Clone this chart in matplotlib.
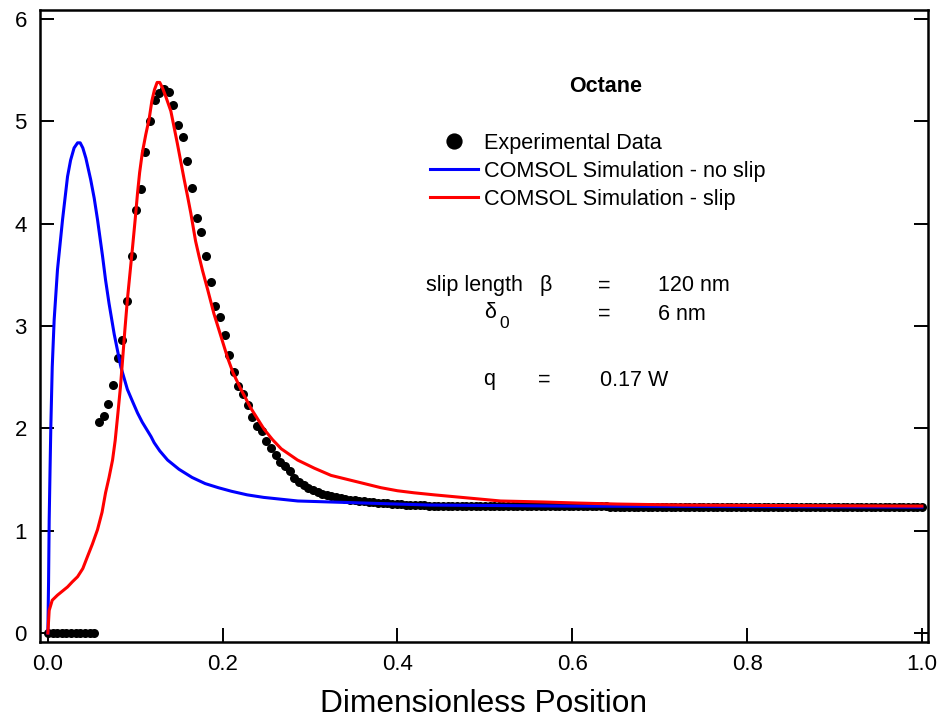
import matplotlib.pyplot as plt
import numpy as np

plt.rcParams['font.family'] = ['Liberation Sans', 'DejaVu Sans']

# experimental data, sampled on an even grid of 188 points across the channel
exp_y = [
    0, 0, 0, 0, 0, 0, 0, 0, 0, 0, 0,
    2.06, 2.12, 2.24, 2.42, 2.69, 2.86, 3.24, 3.68, 4.13, 4.34,
    4.70, 5.00, 5.21, 5.28, 5.32, 5.29, 5.16, 4.96, 4.85, 4.61,
    4.35, 4.06, 3.92, 3.68, 3.43, 3.20, 3.09, 2.91, 2.72, 2.55,
    2.41, 2.34, 2.23, 2.11, 2.02, 1.97, 1.88, 1.81, 1.74, 1.67,
    1.63, 1.58, 1.51, 1.48, 1.45, 1.42, 1.40, 1.38, 1.36, 1.35,
    1.34, 1.33, 1.32, 1.31, 1.30, 1.295, 1.29, 1.285, 1.28, 1.28,
    1.275, 1.27, 1.27, 1.265, 1.26, 1.26, 1.255, 1.255, 1.25, 1.25,
    1.25, 1.245, 1.245, 1.245, 1.24, 1.24, 1.24, 1.24, 1.24, 1.24,
    1.24, 1.24, 1.24, 1.24, 1.24, 1.24, 1.24, 1.24, 1.24, 1.24,
    1.24, 1.24, 1.24, 1.24, 1.24, 1.24, 1.24, 1.24, 1.24, 1.24,
    1.24, 1.24, 1.24, 1.24, 1.24, 1.24, 1.24, 1.24, 1.24, 1.24,
    1.235, 1.235, 1.235, 1.235, 1.235, 1.235, 1.235, 1.235, 1.235, 1.235,
    1.235, 1.235, 1.235, 1.235, 1.235, 1.235, 1.235, 1.235, 1.235, 1.235,
    1.235, 1.235, 1.235, 1.235, 1.235, 1.235, 1.235, 1.235, 1.235, 1.235,
    1.235, 1.235, 1.235, 1.235, 1.235, 1.235, 1.235, 1.235, 1.235, 1.235,
    1.235, 1.235, 1.235, 1.235, 1.235, 1.235, 1.235, 1.235, 1.235, 1.235,
    1.235, 1.235, 1.235, 1.235, 1.235, 1.235, 1.235, 1.235, 1.235, 1.235,
    1.235, 1.235, 1.235, 1.235, 1.235, 1.235, 1.235, 1.235,
]
exp_x = np.linspace(0, 1, len(exp_y))

# COMSOL simulation - no slip
noslip_x = [0, 0.0008, 0.0015, 0.0025, 0.0034, 0.005, 0.0072, 0.011, 0.0168,
            0.0225, 0.026, 0.030, 0.034, 0.037, 0.040, 0.0435, 0.049, 0.053,
            0.0568, 0.0626, 0.066, 0.070, 0.0759, 0.0835, 0.091, 0.097,
            0.1026, 0.108, 0.118, 0.1216, 0.128, 0.137, 0.15, 0.165, 0.18,
            0.195, 0.21, 0.228, 0.247, 0.286, 0.362, 0.438, 0.52, 0.6, 0.8,
            1.0]
noslip_y = [0, 0.5, 1.10, 1.6, 2.02, 2.6, 3.06, 3.55, 4.04,
            4.46, 4.62, 4.74, 4.79, 4.79, 4.74, 4.64, 4.43, 4.25,
            4.04, 3.68, 3.45, 3.22, 2.92, 2.60, 2.38, 2.26,
            2.15, 2.06, 1.92, 1.86, 1.78, 1.69, 1.60, 1.52, 1.46,
            1.42, 1.385, 1.35, 1.325, 1.29, 1.27, 1.25, 1.245, 1.24, 1.235,
            1.23]

# COMSOL simulation - slip
slip_x = [0, 0.0015, 0.005, 0.011, 0.0225, 0.028, 0.034, 0.040, 0.045, 0.051,
          0.0568, 0.062, 0.066, 0.070, 0.074, 0.077, 0.0797, 0.083, 0.0855,
          0.088, 0.091, 0.094, 0.097, 0.100, 0.1026, 0.105, 0.108, 0.112,
          0.116, 0.119, 0.122, 0.125, 0.128, 0.131, 0.135, 0.1407, 0.144,
          0.148, 0.152, 0.156, 0.160, 0.1636, 0.169, 0.173, 0.177, 0.183,
          0.19, 0.198, 0.2056, 0.212, 0.221, 0.232, 0.2475, 0.257, 0.267,
          0.2857, 0.305, 0.324, 0.343, 0.362, 0.381, 0.40, 0.419, 0.442,
          0.48, 0.518, 0.568, 0.606, 0.652, 0.728, 0.85, 1.0]
slip_y = [0, 0.22, 0.32, 0.37, 0.45, 0.50, 0.55, 0.63, 0.74, 0.87,
          1.01, 1.18, 1.37, 1.52, 1.69, 1.88, 2.11, 2.40, 2.67,
          2.95, 3.26, 3.52, 3.78, 4.05, 4.30, 4.50, 4.69, 4.87,
          5.03, 5.20, 5.31, 5.38, 5.38, 5.33, 5.24, 5.10, 4.96,
          4.79, 4.61, 4.43, 4.26, 4.10, 3.83, 3.68, 3.54, 3.35,
          3.12, 2.90, 2.69, 2.54, 2.38, 2.20, 1.99, 1.89, 1.80,
          1.69, 1.61, 1.54, 1.50, 1.46, 1.42, 1.39, 1.37, 1.35,
          1.32, 1.29, 1.28, 1.27, 1.26, 1.25, 1.245, 1.24]

x_ticks = [0.0, 0.2, 0.4, 0.6, 0.8, 1.0]
y_ticks = [0, 1, 2, 3, 4, 5, 6]

W, H = 941, 720
fig = plt.figure(figsize=(W / 100, H / 100), dpi=100)
ax = fig.add_axes([40 / W, 1 - 642 / H, 888 / W, 632 / H])

ax.plot(exp_x, exp_y, 'o', color='black', markersize=6.5, markeredgewidth=0,
        label='Experimental Data', zorder=2)
ax.plot(noslip_x, noslip_y, color='#0000ff', lw=2.2,
        label='COMSOL Simulation - no slip', zorder=3)
ax.plot(slip_x, slip_y, color='#ff0000', lw=2.2,
        label='COMSOL Simulation - slip', zorder=4)

ax.set_xlim(-0.009, 1.007)
ax.set_ylim(-0.088, 6.088)
ax.set_xticks(x_ticks)
ax.set_xticklabels(['%.1f' % t for t in x_ticks])
ax.set_yticks(y_ticks)

for s in ax.spines.values():
    s.set_linewidth(1.8)
ax.tick_params(direction='in', length=10, width=1.4, labelsize=16,
               right=True, top=False)
ax.tick_params(axis='x', pad=9)
ax.tick_params(axis='y', pad=9.5)

ax.set_xlabel('Dimensionless Position', fontsize=22.8, labelpad=9.5)

leg = ax.legend(loc='upper left', bbox_to_anchor=(430 / W, 1 - 133 / H),
                bbox_transform=fig.transFigure, frameon=False, fontsize=15.6,
                borderpad=0, borderaxespad=0, handlelength=2.2,
                handletextpad=0.3, labelspacing=0.32, markerscale=1.8)

def px(x, y):
    return x / W, 1 - y / H

fs = 15.5
fig.text(*px(606, 86), 'Octane', fontsize=fs, fontweight='bold', ha='center', va='center')
fig.text(*px(426, 286), 'slip length', fontsize=fs, ha='left', va='center')
fig.text(*px(546, 286), r'$\mathregular{\beta}$', fontsize=fs, ha='center', va='center')
fig.text(*px(604, 286), '=', fontsize=fs, ha='center', va='center')
fig.text(*px(658, 286), '120 nm', fontsize=fs, ha='left', va='center')
fig.text(*px(491, 312), r'$\mathregular{\delta}$', fontsize=fs, ha='center', va='center')
fig.text(*px(504, 324), '0', fontsize=12.5, ha='center', va='center')
fig.text(*px(604, 314), '=', fontsize=fs, ha='center', va='center')
fig.text(*px(658, 314), '6 nm', fontsize=fs, ha='left', va='center')
fig.text(*px(489, 380), 'q', fontsize=fs, ha='center', va='center')
fig.text(*px(544, 380), '=', fontsize=fs, ha='center', va='center')
fig.text(*px(600, 380), '0.17 W', fontsize=fs, ha='left', va='center')

fig.savefig('out.png', dpi=100)
